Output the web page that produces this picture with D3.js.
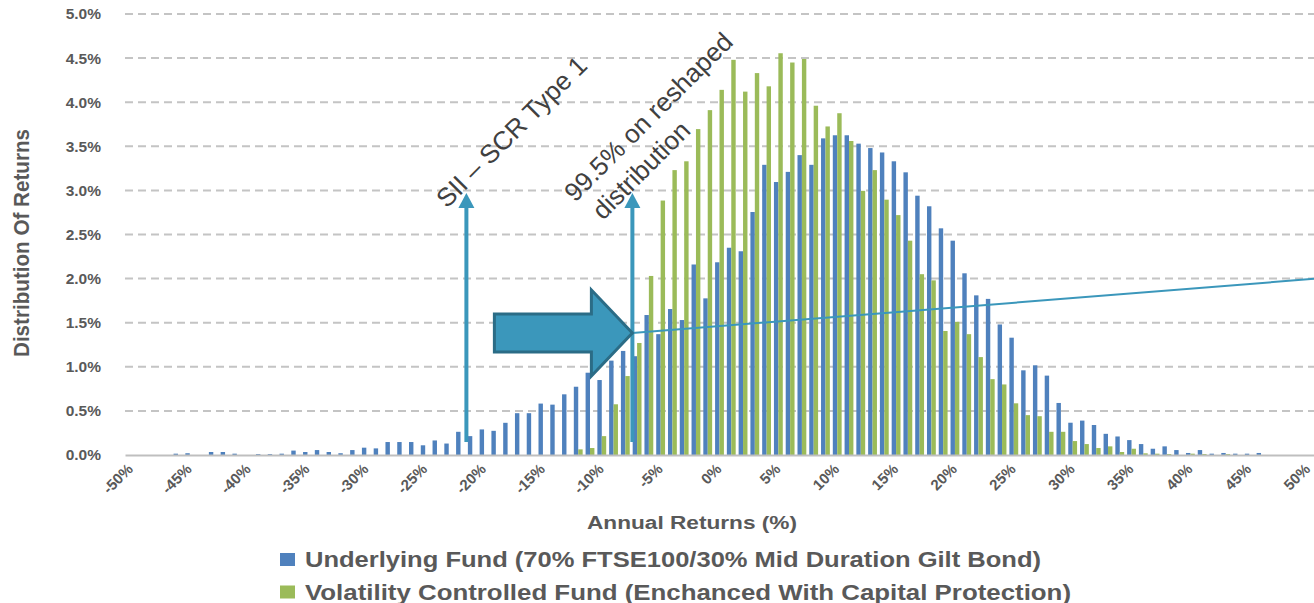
<!DOCTYPE html>
<html>
<head>
<meta charset="utf-8">
<script src="https://cdn.jsdelivr.net/npm/d3@7"></script>
<style>
    body { margin: 0; background: #fff; }
    svg { display: block; }
</style>
</head>
<body>
<div class="chart__container"></div>
<script>
/*-------------------------------------INIT-------------------------------------*/

const CHART__WIDTH = 1314;
const CHART__HEIGHT = 603;

const MARGIN = {
    top: 14,
    right: 0,
    bottom: 148,
    left: 125
}

// one category per 1% of annual return
const RETURNS = d3.range(-50, 51);

const UNDERLYING = [
    0, 0, 0, 0, 0.015, 0.02, 0, 0.034, 0.034, 0.015,
    0, 0.01, 0.01, 0.015, 0.05, 0.034, 0.056, 0.034, 0.02, 0.056,
    0.083, 0.075, 0.147, 0.147, 0.147, 0.11, 0.165, 0.13, 0.263, 0.214,
    0.29, 0.274, 0.365, 0.474, 0.474, 0.583, 0.571, 0.688, 0.774, 0.933,
    0.85, 1.07, 1.18, 1.12, 1.587, 1.37, 1.655, 1.53, 2.16, 1.776,
    2.185, 2.35, 2.31, 2.755, 3.29, 3.095, 3.21, 3.40, 3.29, 3.59,
    3.625, 3.625, 3.53, 3.48, 3.43, 3.33, 3.205, 2.94, 2.82, 2.57,
    2.43, 2.06, 1.81, 1.77, 1.48, 1.33, 0.96, 1.017, 0.90, 0.59,
    0.366, 0.39, 0.34, 0.24, 0.21, 0.169, 0.124, 0.071, 0.098, 0.056,
    0.023, 0.056, 0.015, 0.023, 0.015, 0.015, 0.023, 0, 0, 0,
    0
];

const VOL_CONTROLLED = [
    0, 0, 0, 0, 0, 0, 0, 0, 0, 0,
    0, 0, 0, 0, 0, 0, 0, 0, 0, 0,
    0, 0, 0, 0, 0, 0, 0, 0, 0, 0,
    0, 0, 0, 0, 0, 0, 0, 0, 0.064, 0.079,
    0.214, 0.575, 0.895, 1.27, 2.03, 2.885, 3.23, 3.33, 3.695, 3.91,
    4.14, 4.48, 4.12, 4.33, 4.18, 4.555, 4.45, 4.49, 3.96, 3.725,
    3.875, 3.56, 2.995, 3.23, 2.895, 2.72, 2.43, 2.05, 1.98, 1.406,
    1.51, 1.37, 1.11, 0.86, 0.80, 0.586, 0.452, 0.44, 0.263, 0.263,
    0.158, 0.124, 0.079, 0.098, 0.034, 0.071, 0.019, 0.015, 0.011, 0,
    0.015, 0.011, 0, 0.01, 0, 0, 0, 0, 0, 0,
    0
];

const X_TICKS = [-50, -45, -40, -35, -30, -25, -20, -15, -10, -5, 0, 5, 10, 15, 20, 25, 30, 35, 40, 45, 50];
const Y_TICKS = [0, 0.5, 1, 1.5, 2, 2.5, 3, 3.5, 4, 4.5, 5];

const SERIES = [
    "Underlying Fund (70% FTSE100/30% Mid Duration Gilt Bond)",
    "Volatility Controlled Fund (Enchanced With Capital Protection)"
];
const COLORS = ["#4f81bd", "#9bbb59"];

// annotations, in chart units (return %, distribution %)
const VAR_LINES = [-21.5, -7.4];
const VAR_FROM = 0.147;
const VAR_TO = 2.97;
const TREND = [[-7.4, 1.383], [50.6, 1.998]];

const TEAL = "#3b97bb";
const TEXT_GREY = "#595959";


/*-------------------------------------Graph-------------------------------------*/

const SVG = d3.select(".chart__container").append("svg");

SVG.attr("width", CHART__WIDTH).attr("height", CHART__HEIGHT)
    .style("font-family", "'Liberation Sans', Arial, sans-serif");

const x = d3.scaleBand()
    .domain(RETURNS)
    .range([MARGIN.left, CHART__WIDTH - MARGIN.right])
    .paddingInner(0.25)
    .paddingOuter(0.125);

const xSeries = d3.scaleBand().domain([0, 1]).range([0, x.bandwidth()]);

const xVal = d3.scaleLinear()
    .domain([-50, 50])
    .range([x(-50) + x.bandwidth() / 2, x(50) + x.bandwidth() / 2]);

const y = d3.scaleLinear()
    .domain([0, 5])
    .range([CHART__HEIGHT - MARGIN.bottom, MARGIN.top]);

//Grid

SVG.append("g")
    .selectAll("line")
    .data(Y_TICKS.filter(d => d > 0))
    .join("line")
    .attr("x1", MARGIN.left)
    .attr("x2", CHART__WIDTH)
    .attr("y1", d => y(d))
    .attr("y2", d => y(d))
    .attr("stroke", "#c4c4c4")
    .attr("stroke-width", 2)
    .attr("stroke-dasharray", "8,5");

//Bars

const table = RETURNS.map((r, i) => ({ r: r, values: [UNDERLYING[i], VOL_CONTROLLED[i]] }));

SVG.append("g")
    .selectAll("g")
    .data(table)
    .join("g")
    .attr("transform", d => `translate(${x(d.r)},0)`)
    .selectAll("rect")
    .data(d => d.values.map((v, s) => ({ v: v, s: s })))
    .join("rect")
    .attr("x", d => xSeries(d.s))
    .attr("width", xSeries.bandwidth())
    .attr("y", d => y(d.v))
    .attr("height", d => y(0) - y(d.v))
    .attr("fill", d => COLORS[d.s]);

//Axes

const xAxis = SVG.append("g")
    .attr("transform", `translate(0,${y(0)})`)
    .call(d3.axisBottom(x).tickValues(X_TICKS).tickFormat(d => d + "%").tickSize(0).tickSizeOuter(0));

xAxis.select(".domain").attr("stroke", "#bfbfbf").attr("stroke-width", 2);
xAxis.selectAll("text")
    .attr("x", 0).attr("y", 0).attr("dy", 0)
    .attr("transform", "translate(3,15) rotate(-45)")
    .style("text-anchor", "end")
    .attr("fill", TEXT_GREY)
    .style("font-size", "15px")
    .style("font-weight", "bold")
    .style("font-family", "'Liberation Sans', Arial, sans-serif");

const yAxis = SVG.append("g")
    .attr("transform", `translate(${MARGIN.left},0)`)
    .call(d3.axisLeft(y).tickValues(Y_TICKS).tickFormat(d => d.toFixed(1) + "%").tickSize(0).tickPadding(24));

yAxis.select(".domain").remove();
yAxis.selectAll("text")
    .attr("fill", TEXT_GREY)
    .style("font-size", "15.5px")
    .style("font-weight", "bold")
    .style("font-family", "'Liberation Sans', Arial, sans-serif");

//Axis titles

SVG.append("text")
    .attr("x", 692)
    .attr("y", 529)
    .attr("text-anchor", "middle")
    .attr("fill", TEXT_GREY)
    .attr("textLength", 210)
    .attr("lengthAdjust", "spacingAndGlyphs")
    .style("font-size", "18px")
    .style("font-weight", "bold")
    .text("Annual Returns (%)");

SVG.append("text")
    .attr("transform", "translate(29,243) rotate(-90)")
    .attr("text-anchor", "middle")
    .attr("fill", TEXT_GREY)
    .attr("textLength", 228)
    .attr("lengthAdjust", "spacingAndGlyphs")
    .style("font-size", "22px")
    .style("font-weight", "bold")
    .text("Distribution Of Returns");

//Legend

const legend = SVG.append("g")
    .selectAll("g")
    .data(SERIES)
    .join("g")
    .attr("transform", (d, i) => `translate(280,${553 + i * 32.5})`);

legend.append("rect")
    .attr("width", 15)
    .attr("height", 13)
    .attr("fill", (d, i) => COLORS[i]);

legend.append("text")
    .attr("x", 25)
    .attr("y", 14)
    .attr("fill", TEXT_GREY)
    .attr("textLength", (d, i) => i === 0 ? 736 : 766)
    .attr("lengthAdjust", "spacingAndGlyphs")
    .style("font-size", "22px")
    .style("font-weight", "bold")
    .text(d => d);

//Annotations

// trend line from the big arrow tip
SVG.append("line")
    .attr("x1", xVal(TREND[0][0]))
    .attr("y1", y(TREND[0][1]))
    .attr("x2", xVal(TREND[1][0]))
    .attr("y2", y(TREND[1][1]))
    .attr("stroke", TEAL)
    .attr("stroke-width", 2);

// vertical VaR arrows
const varArrows = SVG.append("g")
    .selectAll("g")
    .data(VAR_LINES)
    .join("g")
    .attr("transform", d => `translate(${xVal(d)},0)`);

varArrows.append("line")
    .attr("y1", y(VAR_FROM))
    .attr("y2", y(VAR_TO) + 12)
    .attr("stroke", TEAL)
    .attr("stroke-width", 4);

varArrows.append("path")
    .attr("d", `M0,${y(VAR_TO)} L8,${y(VAR_TO) + 15} L-8,${y(VAR_TO) + 15} Z`)
    .attr("fill", TEAL);

// big block arrow pointing at the reshaped 99.5% level
const tipX = xVal(TREND[0][0]);
const tipY = y(TREND[0][1]);

SVG.append("path")
    .attr("d", [
        `M${tipX},${tipY}`,
        `L${tipX - 41},${tipY - 43}`,
        `L${tipX - 41},${tipY - 19}`,
        `L${tipX - 138},${tipY - 19}`,
        `L${tipX - 138},${tipY + 19}`,
        `L${tipX - 41},${tipY + 19}`,
        `L${tipX - 41},${tipY + 43}`,
        "Z"
    ].join(" "))
    .attr("fill", "#3b97bb")
    .attr("stroke", "#2b6c86")
    .attr("stroke-width", 3)
    .attr("stroke-linejoin", "miter");

// rotated labels
const notes = [
    { text: "SII \u2013 SCR Type 1", x: 447, y: 209 },
    { text: "99.5% on reshaped", x: 575, y: 203 },
    { text: "distribution", x: 603, y: 221 }
];

SVG.append("g")
    .selectAll("text")
    .data(notes)
    .join("text")
    .attr("transform", d => `translate(${d.x},${d.y}) rotate(-45)`)
    .attr("fill", "#404040")
    .style("font-size", "26px")
    .text(d => d.text);
</script>
</body>
</html>
